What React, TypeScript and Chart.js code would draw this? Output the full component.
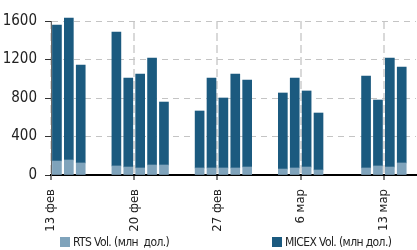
import React, { useEffect, useRef } from "react";
import { Chart, registerables } from "chart.js";

Chart.register(...registerables);

// Day slots (trading days counted from 13 Feb)
const daySlots = [0, 1, 2, 5, 6, 7, 8, 9, 12, 13, 14, 15, 16, 19, 20, 21, 22, 26, 27, 28, 29];
const rtsVol = [145, 156, 125, 94, 83, 73, 104, 104, 73, 73, 73, 73, 83, 62, 73, 83, 52, 73, 94, 83, 125];
const micexVol = [1413, 1475, 1018, 1392, 925, 976, 1112, 654, 592, 935, 727, 976, 904, 790, 935, 790, 592, 956, 685, 1133, 997];

const tickPositions = [0, 7, 14, 21, 28];
const tickLabels = ["13 фев", "20 фев", "27 фев", "6 мар", "13 мар"];
const yTicks = [0, 400, 800, 1200, 1600];

const seriesNames = ["RTS Vol. (млн  дол.)", "MICEX Vol. (млн дол.)"];
const seriesColors = ["#7fa3bb", "#1b5a7f"];

const FONT = '"Liberation Sans Narrow", "DejaVu Sans Condensed", sans-serif';

const legendPlugin = {
  id: "customLegend",
  afterDraw(chart: any) {
    const ctx = chart.ctx;
    const xs = [60, 272];
    const y = 242;
    ctx.save();
    ctx.font = `12px ${FONT}`;
    try {
      (ctx as any).letterSpacing = "-0.6px";
    } catch (e) {}
    ctx.textBaseline = "middle";
    ctx.textAlign = "left";
    chart.data.datasets.forEach((ds: any, i: number) => {
      ctx.fillStyle = ds.backgroundColor;
      ctx.fillRect(xs[i], y - 5, 10, 10);
      ctx.fillStyle = "#222";
      ctx.fillText(ds.label, xs[i] + 13, y + 0.5);
    });
    ctx.restore();
  },
};

export default function App() {
  const ref = useRef<HTMLCanvasElement | null>(null);

  useEffect(() => {
    if (!ref.current) return;
    const chart = new Chart(ref.current, {
      type: "bar",
      data: {
        datasets: [
          {
            label: seriesNames[0],
            data: daySlots.map((d, i) => ({ x: d + 0.5, y: rtsVol[i] })),
            backgroundColor: seriesColors[0],
            barThickness: 9,
            clip: false as any,
          },
          {
            label: seriesNames[1],
            data: daySlots.map((d, i) => ({ x: d + 0.5, y: micexVol[i] })),
            backgroundColor: seriesColors[1],
            barThickness: 9,
            clip: false as any,
          },
        ],
      },
      options: {
        animation: false,
        responsive: false,
        layout: { padding: { top: 21, right: 1, left: 0, bottom: 0 } },
        plugins: {
          legend: { display: false },
          tooltip: { enabled: false },
        },
        scales: {
          x: {
            type: "linear",
            stacked: true,
            offset: false,
            min: 0,
            max: 30.7,
            afterFit: (s: any) => {
              s.height = 75;
            },
            afterBuildTicks: (s: any) => {
              s.ticks = tickPositions.map((v) => ({ value: v }));
            },
            ticks: {
              autoSkip: false,
              minRotation: 90,
              maxRotation: 90,
              padding: 9,
              color: "#222",
              font: { family: FONT, size: 13 },
              callback: (v: any) => {
                const i = tickPositions.indexOf(Number(v));
                return i >= 0 ? tickLabels[i] : "";
              },
            },
            grid: {
              offset: false,
              color: "#d9d9d9",
              lineWidth: 2,
              tickColor: "#808080",
              tickWidth: 2,
              tickLength: 5,
            },
            border: { display: true, color: "#000", width: 2, dash: [8, 4] },
          },
          y: {
            stacked: true,
            min: 0,
            max: 1600,
            afterFit: (s: any) => {
              s.width = 51;
            },
            afterBuildTicks: (s: any) => {
              s.ticks = yTicks.map((v) => ({ value: v }));
            },
            ticks: {
              padding: 8,
              color: "#222",
              font: { family: FONT, size: 15 },
              callback: (v: any) => String(v),
            },
            grid: {
              color: "#c4c4c4",
              lineWidth: 1,
              tickColor: "#333",
              tickLength: 6,
            },
            border: { display: true, color: "#666", width: 1, dash: [6, 5] },
          },
        },
      },
      plugins: [legendPlugin],
    });
    return () => chart.destroy();
  }, []);

  return (
    <div style={{ position: "absolute", left: 0, top: 0, width: 417, height: 250, background: "#fff" }}>
      <canvas ref={ref} width={417} height={250} />
    </div>
  );
}
